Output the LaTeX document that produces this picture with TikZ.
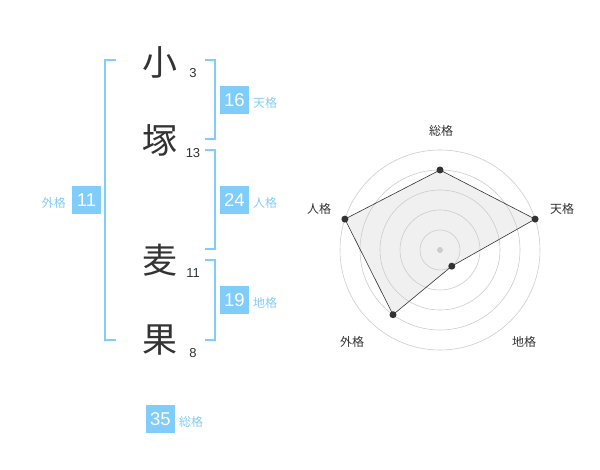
\documentclass[tikz,border=0pt]{standalone}
\usepackage{fontspec}
\setmainfont{Liberation Sans}
\newfontfamily\jp{Noto Sans CJK JP}
\definecolor{kblue}{HTML}{80CCFA}
\definecolor{klab}{HTML}{86CCF4}
\definecolor{kdark}{HTML}{333333}
\definecolor{kgrid}{HTML}{CCCCCC}
\definecolor{kfill}{HTML}{F0F0F0}
\begin{document}
\begin{tikzpicture}[x=1pt,y=-1pt,
  bigchar/.style={font=\jp\fontsize{35}{35}\selectfont, text=kdark, inner sep=0pt},
  strokes/.style={font=\fontsize{13}{13}\selectfont, text=kdark, inner sep=0pt},
  numbox/.style={fill=kblue, text=white, minimum width=29pt, minimum height=28pt, inner sep=0pt, font=\fontsize{18.5}{18.5}\selectfont},
  kaku/.style={font=\jp\fontsize{12}{12}\selectfont, text=klab, inner sep=0pt},
  brk/.style={draw=kblue, line width=2pt},
  rlab/.style={font=\jp\fontsize{12}{12}\selectfont, text=kdark, inner sep=0pt},
  grid/.style={draw=kgrid, line width=0.6pt},
  dot/.style={circle, fill=kdark, inner sep=0pt, minimum size=7pt}]
\useasboundingbox (0,0) rectangle (600,470);
% characters
\node[bigchar] (c1) at (160,62) {小};
\node[bigchar] (c2) at (160,140) {塚};
\node[bigchar] (c3) at (160,260) {麦};
\node[bigchar] (c4) at (160,340) {果};
\node[strokes] (s1) at (193,73) {3};
\node[strokes] (s2) at (193,153) {13};
\node[strokes] (s3) at (193,273) {11};
\node[strokes] (s4) at (193,353) {8};
% brackets
\coordinate (bl1) at (116,60); \coordinate (bl2) at (116,340);
\draw[brk] (bl1) -| (105,340) -- (bl2);
\coordinate (t1) at (205,60); \coordinate (t2) at (205,139);
\draw[brk] (t1) -| (215,139) -- (t2);
\coordinate (h1) at (205,150); \coordinate (h2) at (205,249);
\draw[brk] (h1) -| (215,249) -- (h2);
\coordinate (d1) at (205,260); \coordinate (d2) at (205,340);
\draw[brk] (d1) -| (215,340) -- (d2);
% boxes
\node[numbox] (ten) at (234.5,100) {16};
\node[kaku, anchor=west] (tenl) at (253,103) {天格};
\node[numbox] (jin) at (234.5,200) {24};
\node[kaku, anchor=west] (jinl) at (253,203) {人格};
\node[numbox] (chi) at (234.5,300) {19};
\node[kaku, anchor=west] (chil) at (253,303) {地格};
\node[numbox] (gai) at (86.5,200) {11};
\node[kaku, anchor=east] (gail) at (66,203) {外格};
\node[numbox] (sou) at (160.5,419) {35};
\node[kaku, anchor=west] (soul) at (179,422) {総格};
% radar
\coordinate (O) at (440,250);
\path (O) ++(0,-80) coordinate (pS)
      (O) ++(95.1,-30.9) coordinate (pT)
      (O) ++(11.76,16.18) coordinate (pC)
      (O) ++(-47.0,64.7) coordinate (pG)
      (O) ++(-95.1,-30.9) coordinate (pJ);
\fill[kfill] (pS) -- (pT) -- (pC) -- (pG) -- (pJ) -- cycle;
\foreach \r in {20,40,60,80,100} \draw[grid] (O) circle[radius=\r];
\draw[draw=kdark, line width=0.6pt] (pS) -- (pT) -- (pC) -- (pG) -- (pJ) -- cycle;
\node[dot] (dS) at (pS) {};
\node[dot] (dT) at (pT) {};
\node[dot] (dC) at (pC) {};
\node[dot] (dG) at (pG) {};
\node[dot] (dJ) at (pJ) {};
\node[circle, fill=kgrid, inner sep=0pt, minimum size=6pt] (oc) at (O) {};
\node[rlab] (lS) at (441,131) {総格};
\node[rlab] (lT) at (562,209) {天格};
\node[rlab] (lJ) at (319,209) {人格};
\node[rlab] (lG) at (352,342) {外格};
\node[rlab] (lC) at (524,342) {地格};
\end{tikzpicture}
\end{document}
